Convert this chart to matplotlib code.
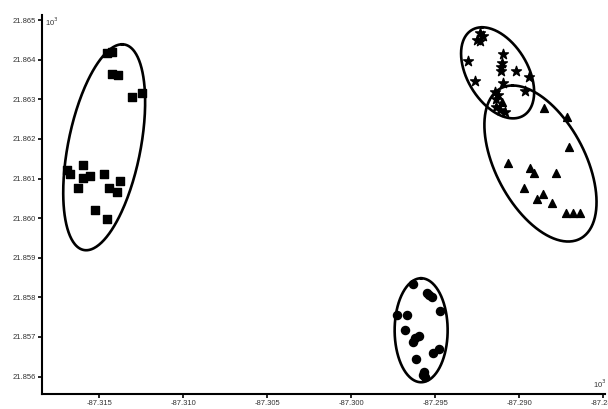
import numpy as np
import matplotlib
matplotlib.use("Agg")
import matplotlib.pyplot as plt

plt.rcParams['font.family'] = ['Liberation Sans', 'DejaVu Sans']

# group 1: squares
sq_x = [-87.31452, -87.31423, -87.31423, -87.31387, -87.31304, -87.31244,
        -87.31690, -87.31673, -87.31595, -87.31595, -87.31554, -87.31625,
        -87.31470, -87.31441, -87.31375, -87.31393, -87.31524, -87.31452]
sq_y = [21.86417, 21.86419, 21.86364, 21.86361, 21.86306, 21.86316,
        21.86121, 21.86111, 21.86134, 21.86101, 21.86106, 21.86076,
        21.86111, 21.86076, 21.86093, 21.86066, 21.86020, 21.85998]

# group 2: circles
ci_x = [-87.29632, -87.29548, -87.29537, -87.29519, -87.29727, -87.29667,
        -87.29471, -87.29679, -87.29632, -87.29620, -87.29596, -87.29513,
        -87.29477, -87.29614, -87.29572, -87.29560, -87.29566]
ci_y = [21.85833, 21.85811, 21.85806, 21.85801, 21.85755, 21.85755,
        21.85765, 21.85717, 21.85687, 21.85697, 21.85702, 21.85659,
        21.85669, 21.85644, 21.85604, 21.85599, 21.85611]

# group 3: stars
st_x = [-87.29233, -87.29215, -87.29251, -87.29233, -87.29304, -87.29096,
        -87.29102, -87.29108, -87.29108, -87.29019, -87.28942, -87.29263,
        -87.29096, -87.29144, -87.29126, -87.29138, -87.28965, -87.29138,
        -87.29114, -87.29084]
st_y = [21.86467, 21.86460, 21.86450, 21.86447, 21.86396, 21.86414,
        21.86391, 21.86381, 21.86371, 21.86371, 21.86356, 21.86346,
        21.86341, 21.86318, 21.86311, 21.86301, 21.86321, 21.86280,
        21.86273, 21.86268]

# group 4: triangles
tr_x = [-87.28852, -87.28715, -87.28704, -87.29066, -87.28936, -87.28912,
        -87.28781, -87.28971, -87.28858, -87.28894, -87.28805, -87.28721,
        -87.28680, -87.28638, -87.29102]
tr_y = [21.86278, 21.86255, 21.86179, 21.86139, 21.86126, 21.86114,
        21.86114, 21.86076, 21.86061, 21.86048, 21.86038, 21.86013,
        21.86013, 21.86013, 21.86293]

# ellipses: center x, center y, top-point offset x, top-point offset y, half width of conjugate axis
ell_cx = [-87.31470, -87.29584, -87.29129, -87.28874]
ell_cy = [21.86179, 21.85717, 21.86367, 21.86138]
ell_tx = [0.00107, 0.0, -0.00092, -0.00165]
ell_ty = [0.00260, 0.001313, 0.00115, 0.00197]
ell_q = [0.00219, 0.001577, 0.00197, 0.00290]

xticks = [-87.315, -87.310, -87.305, -87.300, -87.295, -87.290, -87.285]
yticks = [21.856, 21.857, 21.858, 21.859, 21.860, 21.861, 21.862, 21.863, 21.864, 21.865]

fig = plt.figure(figsize=(6.08, 4.09), dpi=100)
ax = fig.add_axes([42 / 608, 1 - 394 / 409, 563 / 608, 379 / 409])

ax.scatter(sq_x, sq_y, marker='s', s=34, color='black', zorder=3)
ax.scatter(ci_x, ci_y, marker='o', s=34, color='black', zorder=3)
ax.scatter(st_x, st_y, marker='*', s=55, color='black', zorder=3)
ax.scatter(tr_x, tr_y, marker='^', s=32, color='black', zorder=3)

t = np.linspace(0, 2 * np.pi, 300)
for cx, cy, tx, ty, q in zip(ell_cx, ell_cy, ell_tx, ell_ty, ell_q):
    ex = cx + tx * np.cos(t) + q * np.sin(t)
    ey = cy + ty * np.cos(t)
    ax.plot(ex, ey, color='black', lw=1.9, zorder=2)

ax.set_xlim(-87.3184, -87.2849)
ax.set_ylim(21.85556, 21.86513)
ax.set_xticks(xticks)
ax.set_xticklabels([f"{v:.3f}" for v in xticks])
ax.set_yticks(yticks)
ax.set_yticklabels([f"{v:.3f}" for v in yticks])

for side in ['top', 'right']:
    ax.spines[side].set_visible(False)
for side in ['left', 'bottom']:
    ax.spines[side].set_linewidth(1.5)
ax.tick_params(labelsize=5.5, labelcolor='#333333', length=3, width=1.2, pad=1.5)

fig.text(52 / 608, 1 - 22 / 409, "10$^3$", fontsize=5.5, color='#333333', va='center', ha='center')
fig.text(600 / 608, 1 - 384 / 409, "10$^3$", fontsize=5.5, color='#333333', va='center', ha='center')

fig.savefig("out.png", dpi=100)
